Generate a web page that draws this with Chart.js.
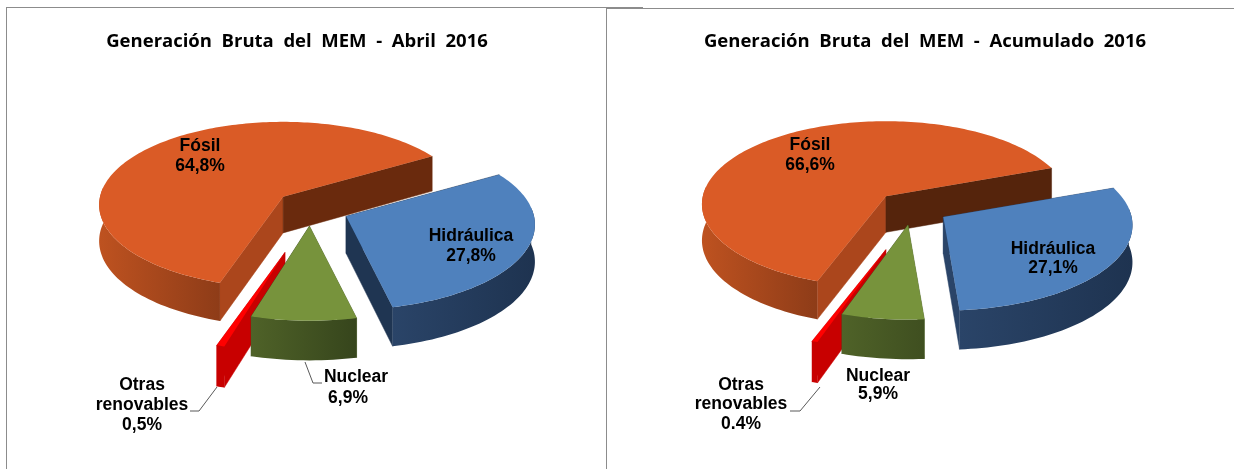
<!DOCTYPE html>
<html><head><meta charset="utf-8">
<style>
html,body{margin:0;padding:0;background:#fff;overflow:hidden;width:1234px;height:469px}
canvas{position:absolute;top:0}
.ln{position:absolute;background:#8c8c8c}
</style>
<script src="https://cdn.jsdelivr.net/npm/chart.js@4/dist/chart.umd.js"></script>
</head><body>
<div class="ln" style="left:6px;top:7px;width:600px;height:1px"></div>
<div class="ln" style="left:6px;top:7px;width:1px;height:462px"></div>
<div class="ln" style="left:606px;top:7px;width:1px;height:462px"></div>
<div class="ln" style="left:606px;top:7px;width:37px;height:2px"></div>
<div class="ln" style="left:643px;top:8px;width:591px;height:1px"></div>
<canvas id="c1" style="left:0" width="594" height="469"></canvas>
<canvas id="c2" style="left:616px" width="618" height="469"></canvas>
<script>
const categories = ["Fósil", "Hidráulica", "Nuclear", "Otras renovables"];
const valuesAbril = [64.8, 27.8, 6.9, 0.5];
const valuesAcumulado = [66.6, 27.1, 5.9, 0.4];
const pctAbril = ["64,8%", "27,8%", "6,9%", "0,5%"];
const pctAcumulado = ["66,6%", "27,1%", "5,9%", "0.4%"];
const titleAbril = "Generación  Bruta  del  MEM  -  Abril  2016";
const titleAcumulado = "Generación  Bruta  del  MEM  -  Acumulado  2016";

const topColors = ["#DA5B26", "#4F81BD", "#77933C", "#FF0000"];
const R = 183, S = 82.2, P = 0.0964, D = 36, DEG = Math.PI / 180;

function project(rho, clock, o) {
  const f = clock + o.warp * DEG * Math.sin(clock - o.warp0 * DEG);
  const u = rho * Math.sin(f), v = -rho * Math.cos(f), k = 1 / (1 - P * v);
  return {x: R * u * k, y: S * v * k, d: D * (1 + 0.06 * v), front: v > -0.12};
}
const pie3d = {
  id: "pie3d",
  beforeDatasetDraw(chart, args, o) {
    const ctx = chart.ctx, els = chart.getDatasetMeta(0).data;
    const slices = els.map((el, i) => {
      const a = el.startAngle + Math.PI / 2, b = el.endAngle + Math.PI / 2, m = (a + b) / 2, off = el.options.offset;
      const ax = o.cx + off * Math.sin(m), ay = o.cy - off * Math.cos(m) * S / R;
      const near = -off * Math.cos(m) / R, sc = 1.015 / (1 - 0.11 * near);
      const pts = [];
      const n = Math.max(4, Math.ceil((b - a) * 40));
      for (let j = 0; j <= n; j++) {
        const p = project(1, a + (b - a) * j / n, o);
        pts.push({x: ax + p.x * sc, y: ay + p.y * sc, d: p.d * sc, front: p.front});
      }
      return {ax, ay, pts, i, sc};
    });
    for (const idx of [0, 1, 3, 2]) {
      const s = slices[idx], st = o.walls[idx], f = s.pts[0], l = s.pts[s.pts.length - 1];
      // radial walls
      const quad = (e, col) => {
        ctx.fillStyle = col; ctx.strokeStyle = col; ctx.lineWidth = 0.5;
        ctx.beginPath(); ctx.moveTo(s.ax, s.ay); ctx.lineTo(e.x, e.y);
        ctx.lineTo(e.x, e.y + e.d); ctx.lineTo(s.ax, s.ay + D * s.sc); ctx.closePath(); ctx.fill(); ctx.stroke();
      };
      quad(f, st.start); quad(l, st.end);
      // outer wall, only the part that faces the viewer
      const fr = s.pts.filter(p => p.front);
      if (fr.length) {
        const xs = fr.map(p => p.x), x0 = Math.min(...xs), x1 = Math.max(...xs);
        const g = ctx.createLinearGradient(x0, 0, x1, 0);
        g.addColorStop(0, st.a); g.addColorStop(1, st.b);
        ctx.fillStyle = g;
        ctx.beginPath();
        fr.forEach((p, j) => j ? ctx.lineTo(p.x, p.y) : ctx.moveTo(p.x, p.y));
        for (let j = fr.length - 1; j >= 0; j--) ctx.lineTo(fr[j].x, fr[j].y + fr[j].d);
        ctx.closePath(); ctx.fill();
      }
      // top face
      ctx.fillStyle = els[idx].options.backgroundColor;
      ctx.beginPath(); ctx.moveTo(s.ax, s.ay);
      s.pts.forEach(p => ctx.lineTo(p.x, p.y));
      ctx.closePath(); ctx.fill();
    }
    return false;
  },
  afterDraw(chart, args, o) {
    const ctx = chart.ctx;
    ctx.save();
    ctx.strokeStyle = "#595959"; ctx.lineWidth = 1;
    for (const l of o.leaders) {
      ctx.beginPath();
      l.forEach((p, j) => j ? ctx.lineTo(p[0], p[1]) : ctx.moveTo(p[0], p[1]));
      ctx.stroke();
    }
    ctx.fillStyle = "#000"; ctx.textAlign = "center"; ctx.textBaseline = "middle";
    ctx.font = "bold 17.5px 'Liberation Sans', Arial, sans-serif";
    for (const t of o.texts) ctx.fillText(t[0], t[1], t[2]);
    ctx.restore();
  }
};
function make(id, values, title, opt) {
  new Chart(document.getElementById(id), {
    type: "pie",
    data: {labels: categories, datasets: [{data: values, backgroundColor: topColors, borderWidth: 0, offset: opt.explode}]},
    options: {
      responsive: false, animation: false, rotation: opt.rotation,
      layout: {padding: 0},
      plugins: {
        legend: {display: false}, tooltip: {enabled: false},
        title: {display: true, text: title, color: "#000", padding: {top: 31, bottom: 4},
          font: {family: "'Open Sans', sans-serif", size: 18.5, weight: "bold"}},
        pie3d: opt
      }
    },
    plugins: [pie3d]
  });
}
make("c1", valuesAbril, titleAbril, {
  rotation: 195, warp: 10, warp0: 176, explode: [36, 41, 41, 103], cx: 310, cy: 207.6,
  walls: [
    {start: "#AB461C", end: "#6A2A0D", a: "#BE5220", b: "#8E3C18"},
    {start: "#1F3552", end: "#1F3552", a: "#2A4468", b: "#1E3350"},
    {start: "#4F6228", end: "#36451C", a: "#4F6228", b: "#36451C"},
    {start: "#C80000", end: "#C80000", a: "#C80000", b: "#C80000"}],
  leaders: [[[305, 362], [313, 383], [322, 383]], [[217, 387], [199, 411], [190, 411]]],
  texts: [["Fósil", 200, 146], [pctAbril[0], 200, 166], ["Hidráulica", 471, 236], [pctAbril[1], 471, 256],
    ["Nuclear", 356, 377], [pctAbril[2], 348, 398], ["Otras", 142, 385], ["renovables", 142, 405], [pctAbril[3], 142, 425]]
});
make("c2", valuesAcumulado, titleAcumulado, {
  rotation: 195, warp: 6, warp0: 140, explode: [34, 40, 40, 98], cx: 294, cy: 207,
  walls: [
    {start: "#AB461C", end: "#55240C", a: "#BE5220", b: "#8E3C18"},
    {start: "#2A4468", end: "#2A4468", a: "#2A4468", b: "#1E3350"},
    {start: "#4F6228", end: "#3F4F20", a: "#4F6228", b: "#3F4F20"},
    {start: "#C80000", end: "#C80000", a: "#C80000", b: "#C80000"}],
  leaders: [[[204, 387], [184, 411], [174, 411]]],
  texts: [["Fósil", 194, 145], [pctAcumulado[0], 194, 165], ["Hidráulica", 437, 249], [pctAcumulado[1], 437, 268],
    ["Nuclear", 262, 376], [pctAcumulado[2], 262, 394], ["Otras", 125, 385], ["renovables", 125, 404], [pctAcumulado[3], 125, 424]]
});
</script>
</body></html>
